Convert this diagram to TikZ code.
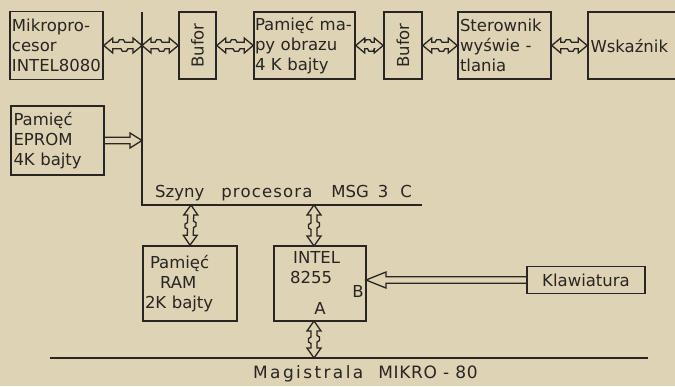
\documentclass[tikz,border=0pt]{standalone}
\usepackage{fontspec}
\usepackage{graphicx}
\setmainfont{DejaVu Sans}
\usetikzlibrary{calc}
\definecolor{paper}{RGB}{222,211,180}
\definecolor{ink}{RGB}{40,37,34}
\tikzset{
  box/.style={draw=ink, line width=1.6pt, inner sep=0pt, text=ink},
  lbox/.style={box, align=left},
  txt/.style={text=ink, inner sep=0pt},
  busline/.style={draw=ink, line width=1.7pt},
  conn/.style={draw=ink, line width=1.3pt, line join=miter},
  hbus/.style={to path={
    -- ($(\tikztostart)!9pt!(\tikztotarget)+(0,7.5pt)$)
    -- ($(\tikztostart)!9pt!(\tikztotarget)+(0,3.2pt)$)
    -- ($(\tikztostart)!.5!(\tikztotarget)+(-5pt,3.2pt)$)
    -- ($(\tikztostart)!.5!(\tikztotarget)+(-3.5pt,5.8pt)$)
    -- ($(\tikztostart)!.5!(\tikztotarget)+(0.5pt,5.8pt)$)
    -- ($(\tikztostart)!.5!(\tikztotarget)+(2pt,3.2pt)$)
    -- ($(\tikztotarget)!9pt!(\tikztostart)+(0,3.2pt)$)
    -- ($(\tikztotarget)!9pt!(\tikztostart)+(0,7.5pt)$)
    -- (\tikztotarget)
    -- ($(\tikztotarget)!9pt!(\tikztostart)+(0,-7.5pt)$)
    -- ($(\tikztotarget)!9pt!(\tikztostart)+(0,-3.2pt)$)
    -- ($(\tikztostart)!.5!(\tikztotarget)+(5pt,-3.2pt)$)
    -- ($(\tikztostart)!.5!(\tikztotarget)+(3.5pt,-5.8pt)$)
    -- ($(\tikztostart)!.5!(\tikztotarget)+(-0.5pt,-5.8pt)$)
    -- ($(\tikztostart)!.5!(\tikztotarget)+(-2pt,-3.2pt)$)
    -- ($(\tikztostart)!9pt!(\tikztotarget)+(0,-3.2pt)$)
    -- ($(\tikztostart)!9pt!(\tikztotarget)+(0,-7.5pt)$)
    -- cycle}},
  vbus/.style={to path={
    -- ($(\tikztostart)!10pt!(\tikztotarget)+(7pt,0)$)
    -- ($(\tikztostart)!10pt!(\tikztotarget)+(3pt,0)$)
    -- ($(\tikztostart)!.5!(\tikztotarget)+(3pt,4pt)$)
    -- ($(\tikztostart)!.5!(\tikztotarget)+(5.5pt,2.5pt)$)
    -- ($(\tikztostart)!.5!(\tikztotarget)+(5.5pt,-1pt)$)
    -- ($(\tikztostart)!.5!(\tikztotarget)+(3pt,-2.5pt)$)
    -- ($(\tikztotarget)!10pt!(\tikztostart)+(3pt,0)$)
    -- ($(\tikztotarget)!10pt!(\tikztostart)+(7pt,0)$)
    -- (\tikztotarget)
    -- ($(\tikztotarget)!10pt!(\tikztostart)+(-7pt,0)$)
    -- ($(\tikztotarget)!10pt!(\tikztostart)+(-3pt,0)$)
    -- ($(\tikztostart)!.5!(\tikztotarget)+(-3pt,-4pt)$)
    -- ($(\tikztostart)!.5!(\tikztotarget)+(-5.5pt,-2.5pt)$)
    -- ($(\tikztostart)!.5!(\tikztotarget)+(-5.5pt,1pt)$)
    -- ($(\tikztostart)!.5!(\tikztotarget)+(-3pt,2.5pt)$)
    -- ($(\tikztostart)!10pt!(\tikztotarget)+(-3pt,0)$)
    -- ($(\tikztostart)!10pt!(\tikztotarget)+(-7pt,0)$)
    -- cycle}},
  hollow/.style 2 args={to path={
    ($(\tikztostart)+(0,3.2pt)$)
    -- ($(\tikztotarget)!#1!(\tikztostart)+(0,3.2pt)$)
    -- ($(\tikztotarget)!#1!(\tikztostart)+(0,#2)$)
    -- (\tikztotarget)
    -- ($(\tikztotarget)!#1!(\tikztostart)+(0,-#2)$)
    -- ($(\tikztotarget)!#1!(\tikztostart)+(0,-3.2pt)$)
    -- ($(\tikztostart)+(0,-3.2pt)$)}}
}
\begin{document}
\begin{tikzpicture}[x=1pt, y=-1pt, font=\fontsize{16.5pt}{20pt}\selectfont]
\useasboundingbox (0,0) rectangle (675,386);
\fill[paper] (0,0) rectangle (675,386);
\clip (0,0) rectangle (675,386);

% top row
\node[lbox, minimum width=93pt, minimum height=68pt, text width=89pt] (mp) at (56.5,45.5) {Mikropro-\\cesor\\INTEL8080};
\node[box, minimum width=37pt, minimum height=67pt] (buf1) at (197.5,45.5) {\rotatebox{90}{Bufor}};
\node[lbox, minimum width=101pt, minimum height=67pt, text width=99pt] (pm) at (304.5,45.5) {\mbox{Pamięć ma-}\\py obrazu\\4 K bajty};
\node[box, minimum width=38pt, minimum height=67pt] (buf2) at (403,45.5) {\rotatebox{90}{Bufor}};
\node[lbox, minimum width=93pt, minimum height=67pt, text width=89pt] (ster) at (504.5,45.5) {Sterownik\\wyświe -\\tlania};
\node[lbox, minimum width=102pt, minimum height=67pt, text width=97pt] (wsk) at (639,45.5) {Wskaźnik};

% EPROM
\node[lbox, minimum width=93pt, minimum height=69pt, text width=88pt] (eprom) at (57.5,140.5) {Pamięć\\EPROM\\4K bajty};

% bus
\coordinate (bt) at (142,12);
\coordinate (bc) at (142,205);
\coordinate (be) at (422,205);
\coordinate (b1) at (142,45.5);
\coordinate (b2) at (142,140.5);
\coordinate (b3) at (191,205);
\coordinate (b4) at (314,205);
\draw[busline] (bt) -- (bc) -- (be);
\node[txt, anchor=base west] (szyny) at (155,197) {Szyny\hspace{17pt}{\addfontfeature{LetterSpace=7}procesora}\hspace{19pt}MSG\hspace{9pt}3\hspace{12pt}C};

% lower boxes
\node[lbox, minimum width=94pt, minimum height=75pt, text width=90pt] (ram) at (190,283.5) {\hspace*{5pt}Pamięć\\\hspace*{15pt}RAM\\2K bajty};
\node[box, minimum width=92pt, minimum height=75pt] (intel) at (320,283.5) {};
\node[txt, anchor=north west, align=left] (iname) at (290,251) {\hspace*{3pt}INTEL\\8255};
\node[txt] (portb) at (358,291) {B};
\node[txt] (porta) at (320,308) {A};
\coordinate (i1) at (314,246);
\coordinate (i2) at (314,321);
\coordinate (i3) at (366,280);
\node[box, minimum width=118pt, minimum height=27pt] (klaw) at (586,280) {Klawiatura};

% magistrala
\coordinate (m1) at (50,358);
\coordinate (m2) at (648,358);
\coordinate (m0) at (314,358);
\draw[busline, line width=1.5pt] (m1) -- (m2);
\node[txt, anchor=base west] (mag) at (253,378) {\fontsize{17pt}{20pt}\selectfont{\addfontfeature{LetterSpace=14}Magistrala}\hspace{15pt}{\addfontfeature{LetterSpace=4}MIKRO - 80}};

% connectors
\draw[conn] (mp.east) to[hbus] (b1);
\draw[conn] (b1) to[hbus] (buf1.west);
\draw[conn] (buf1.east) to[hbus] (pm.west);
\draw[conn] (pm.east) to[hbus] (buf2.west);
\draw[conn] (buf2.east) to[hbus] (ster.west);
\draw[conn] (ster.east) to[hbus] (wsk.west);
\draw[conn] (eprom.east) to[hollow={12pt}{7.5pt}] (b2);
\draw[conn] (b3) to[vbus] (ram.north);
\draw[conn] (b4) to[vbus] (i1);
\draw[conn] (i2) to[vbus] (m0);
\draw[conn] (klaw.west) to[hollow={20pt}{8pt}] (i3);
\end{tikzpicture}
\end{document}
